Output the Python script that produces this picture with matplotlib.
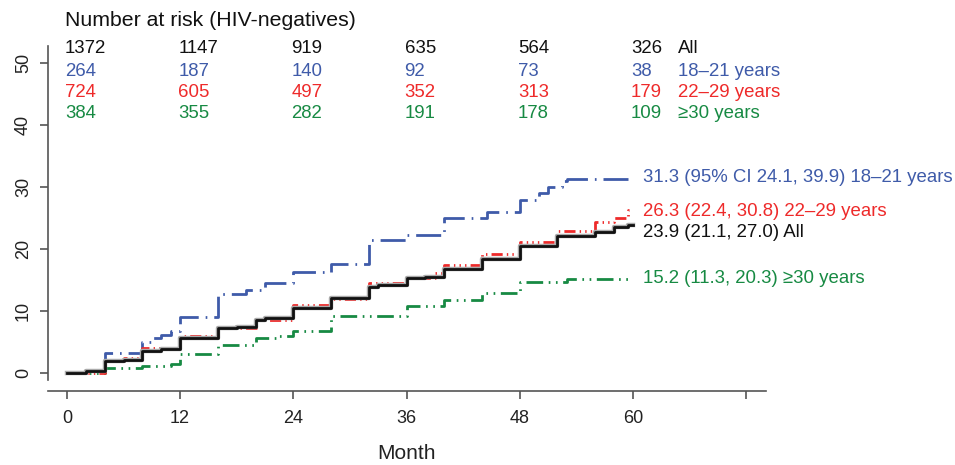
import matplotlib
matplotlib.use("Agg")
import matplotlib.pyplot as plt

plt.rcParams["font.family"] = ["Liberation Sans", "DejaVu Sans"]

# cumulative incidence step curves (month, %)
all_t = [0, 2, 4, 6, 8, 10, 12, 16, 18, 20, 21, 24, 28, 32, 33, 36, 38, 40, 44, 48, 52, 56, 58, 59.5, 60]
all_v = [0, 0.3, 1.9, 2.1, 3.5, 3.8, 5.6, 7.3, 7.4, 8.5, 8.8, 10.5, 12.1, 13.9, 14.2, 15.3, 15.5, 16.8, 18.4, 20.5, 22.1, 22.7, 23.5, 23.9, 23.9]

y18_t = [0, 2, 4, 8, 9, 10, 11, 12, 16, 19, 21, 24, 28, 32, 36, 40, 44.5, 48, 50, 51, 52.5, 53, 60]
y18_v = [0, 0.5, 3.2, 5.0, 5.6, 6.1, 6.7, 9.1, 12.7, 13.4, 14.5, 16.3, 17.6, 21.4, 22.3, 25.0, 26.0, 27.9, 29.0, 30.0, 31.0, 31.3, 31.3]

y22_t = [0, 4, 6, 8, 12, 16, 20, 24, 28, 32, 36, 39, 40, 44, 48, 52, 56, 58, 59.5, 60]
y22_v = [0, 1.9, 2.4, 4.0, 6.0, 7.3, 8.6, 11.0, 11.9, 14.5, 15.4, 16.1, 17.4, 19.2, 21.1, 22.9, 24.4, 25.0, 26.3, 26.3]

y30_t = [0, 4, 8, 11, 12, 16, 20, 22.5, 24, 28, 36, 40, 44, 48, 53, 60]
y30_v = [0, 0.8, 1.1, 1.5, 3.0, 4.5, 5.7, 6.0, 6.8, 9.2, 10.8, 11.8, 12.9, 14.7, 15.2, 15.2]

# number at risk table
risk_months = [0, 12, 24, 36, 48, 60]
risk_all = [1372, 1147, 919, 635, 564, 326]
risk_18 = [264, 187, 140, 92, 73, 38]
risk_22 = [724, 605, 497, 352, 313, 179]
risk_30 = [384, 355, 282, 191, 178, 109]
group_names = ["All", "18\u201321 years", "22\u201329 years", "\u226530 years"]

end_labels = ["31.3 (95% CI 24.1, 39.9) 18\u201321 years",
              "26.3 (22.4, 30.8) 22\u201329 years",
              "23.9 (21.1, 27.0) All",
              "15.2 (11.3, 20.3) \u226530 years"]

BLACK = "#111111"
BLUE = "#3F5BA9"
RED = "#EE2A2A"
GREEN = "#178A43"

fig = plt.figure(figsize=(9.55, 4.65), dpi=100)
ax = fig.add_axes([0.0503, 0.1828, 0.7517, 0.7183])

ax.step(y30_t, y30_v, where="post", color=GREEN, lw=2.0, dashes=(6, 2, 0.6, 2, 0.6, 2))
ax.step(y18_t, y18_v, where="post", color=BLUE, lw=2.0, dashes=(9, 2.5, 0.6, 2.5))
ax.step(y22_t, y22_v, where="post", color=RED, lw=2.0, dashes=(4, 1.5, 0.5, 1.5, 0.5, 1.5, 0.5, 1.5))
ax.step(all_t, all_v, where="post", color="#aaaaaa", lw=3.2)
ax.step(all_t, all_v, where="post", color=BLACK, lw=2.0)

ax.set_xlim(-2.0, 74.1)
ax.set_ylim(-1.13, 52.74)
ax.set_xticks([0, 12, 24, 36, 48, 60, 72])
ax.set_xticklabels(["0", "12", "24", "36", "48", "60", ""])
ax.set_yticks([0, 10, 20, 30, 40, 50])
ax.set_yticklabels(["0", "10", "20", "30", "40", "50"], rotation=90, va="center")

for s in ["top", "right"]:
    ax.spines[s].set_visible(False)
ax.spines["bottom"].set_position(("outward", 8))
for s in ["left", "bottom"]:
    ax.spines[s].set_color("#555555")
    ax.spines[s].set_linewidth(1.2)
ax.tick_params(axis="both", colors="#555555", labelcolor="#222222",
               labelsize=13, length=5.5, width=1.2)
ax.tick_params(axis="x", pad=8)
ax.tick_params(axis="y", pad=6)
ax.set_xlabel("Month", fontsize=15, color="#222222", labelpad=12)

# number at risk
fig.text(0.068, 0.955, "Number at risk (HIV-negatives)", fontsize=15.3,
         color="#111111", va="center", ha="left")
rows = [(risk_all, BLACK, 52.4), (risk_18, BLUE, 48.7),
        (risk_22, RED, 45.2), (risk_30, GREEN, 41.8)]
for (vals, col, yy), name in zip(rows, group_names):
    for m, n in zip(risk_months, vals):
        ax.text(m - 0.2, yy, str(n), color=col, fontsize=13.4, va="center",
                ha="left", clip_on=False)
    ax.text(64.8, yy, name, color=col, fontsize=13.4, va="center", ha="left",
            clip_on=False)

# end-of-curve labels
for txt, col, yy in zip(end_labels, [BLUE, RED, BLACK, GREEN], [31.5, 26.0, 22.7, 15.3]):
    ax.text(61.1, yy, txt, color=col, fontsize=13.4, va="center", ha="left",
            clip_on=False)

fig.savefig("out.png", dpi=100)
